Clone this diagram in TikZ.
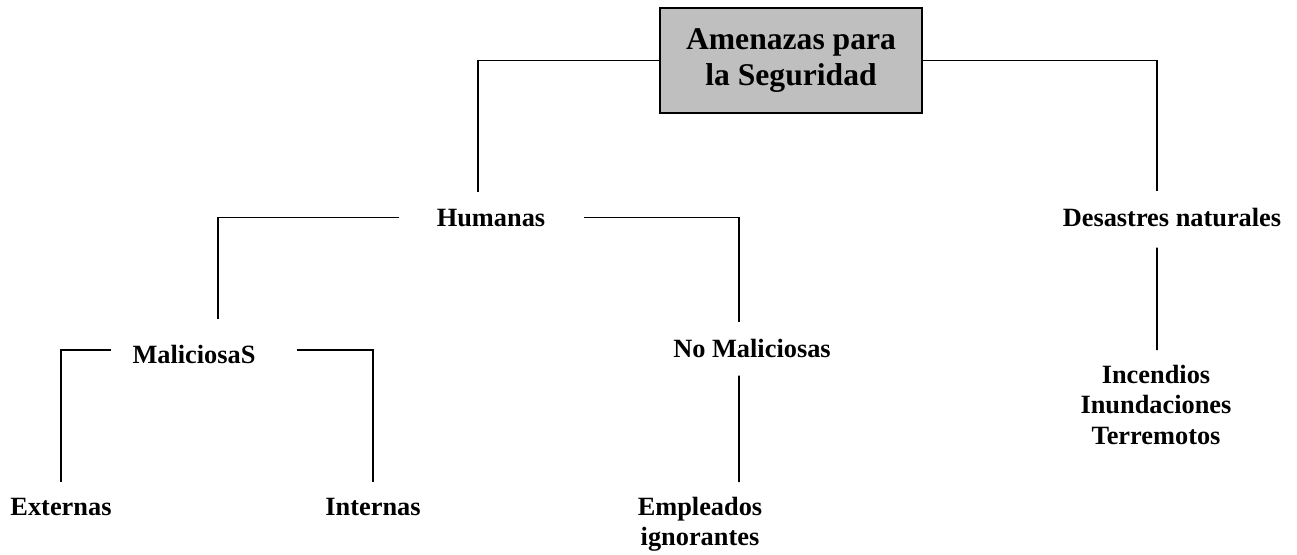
\documentclass[tikz,border=0pt]{standalone}
\usepackage{fontspec}
\setmainfont{Liberation Serif}

\begin{document}
\begin{tikzpicture}[x=0.02cm,y=-0.02cm,
    tx/.style={font=\bfseries\fontsize{15}{17.25}\selectfont, inner sep=0, align=center},
    tit/.style={draw,line width=1pt,fill=gray!50,font=\bfseries\fontsize{18}{21}\selectfont,
      align=center, minimum width=5.24cm, minimum height=2.1cm},
    ln/.style={line width=0.9pt}]
  \useasboundingbox (0,0) rectangle (1297,554);
  \node[tit] (Titulo) at (791,60.5) {Amenazas para\\la Seguridad};
  \node[tx,anchor=base] (Humanas) at (491,226) {Humanas};
  \node[tx,anchor=base] (Desastres) at (1172,226) {Desastres naturales};
  \node[tx,anchor=base] (Maliciosas) at (194,363) {MaliciosaS};
  \node[tx,anchor=base] (NoMaliciosas) at (752,357) {No Maliciosas};
  \node[tx,anchor=base] (Externas) at (61,515) {Externas};
  \node[tx,anchor=base] (Internas) at (373,515) {Internas};
  \node[tx,anchor=north] (Empleados) at (700,497) {Empleados\\ignorantes};
  \node[tx,anchor=north] (Naturales) at (1156,365) {Incendios\\Inundaciones\\Terremotos};
  \draw[ln] (Titulo.west) -| ([xshift=-0.26cm,yshift=0.33cm]Humanas.north);
  \draw[ln] (Titulo.east) -| ([xshift=-0.3cm,yshift=0.32cm]Desastres.north);
  \draw[ln] ([xshift=-0.74cm]Humanas.west) -| ([xshift=0.48cm,yshift=0.5cm]Maliciosas.north);
  \draw[ln] ([xshift=0.76cm]Humanas.east) -| ([xshift=-0.26cm,yshift=0.32cm]NoMaliciosas.north);
  \draw[ln] ([xshift=-0.42cm,yshift=0.08cm]Maliciosas.west) -| ([yshift=0.3cm]Externas.north);
  \draw[ln] ([xshift=0.82cm,yshift=0.08cm]Maliciosas.east) -| ([yshift=0.3cm]Internas.north);
  \draw[ln] ([xshift=-0.26cm,yshift=-0.36cm]NoMaliciosas.south) -- ([xshift=0.78cm,yshift=0.3cm]Empleados.north);
  \draw[ln] ([xshift=-0.3cm,yshift=-0.42cm]Desastres.south) -- ([xshift=0.02cm,yshift=0.3cm]Naturales.north);
\end{tikzpicture}
\end{document}
